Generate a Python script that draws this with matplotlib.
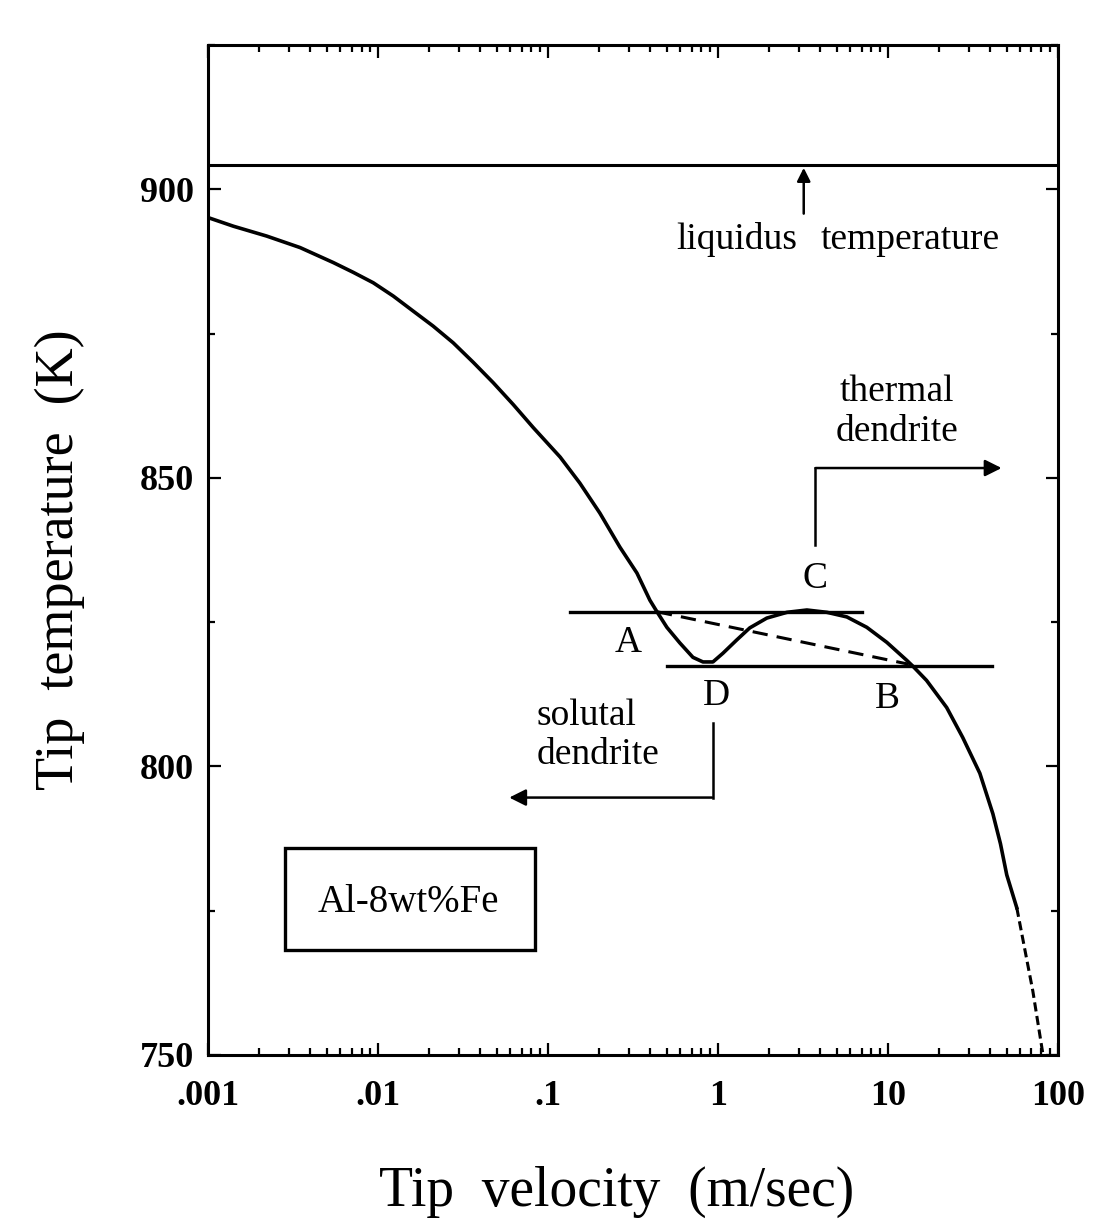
import matplotlib
matplotlib.use("Agg")
import matplotlib.pyplot as plt
from matplotlib.patches import Rectangle
from matplotlib.ticker import FixedLocator, NullFormatter, MultipleLocator

plt.rcParams['font.family'] = ['Liberation Serif', 'DejaVu Serif']

# tip temperature curve (solid part, then dashed tail)
velocity = [0.001, 0.00141, 0.00221, 0.00348, 0.00546, 0.00716, 0.00938, 0.0123,
            0.0161, 0.0211, 0.0277, 0.0364, 0.0476, 0.0625, 0.0820, 0.118, 0.154,
            0.202, 0.265, 0.334, 0.398, 0.438, 0.501, 0.597, 0.713, 0.817, 0.935,
            1.07, 1.29, 1.54, 1.94, 2.55, 3.34, 4.38, 5.74, 7.52, 9.86, 12.9, 14.0,
            16.9, 22.2, 27.6, 34.8, 41.5, 46.0, 50.1, 57.4]
temperature = [895.1, 893.6, 891.9, 889.9, 887.3, 885.6, 883.8, 881.5,
               878.9, 876.3, 873.4, 870.0, 866.5, 862.7, 858.7, 853.6, 849.1,
               843.9, 838.0, 833.5, 828.8, 826.8, 824.1, 821.4, 818.9, 818.1, 818.1,
               819.6, 821.9, 824.0, 825.7, 826.7, 827.1, 826.7, 825.9, 824.1, 821.5, 818.4, 817.4,
               814.9, 810.2, 805.0, 798.8, 791.8, 786.6, 781.2, 775.5]
velocity_tail = [57.4, 71.3, 81.7]
temperature_tail = [775.5, 761.1, 750.2]

liquidus_T = 904.2
upper_T = 826.8       # horizontal through A and C
lower_T = 817.4       # horizontal through D and B
upper_span = [0.135, 7.0]
lower_span = [0.50, 41.0]
tie_v = [0.438, 13.3]  # dashed A-B line
tie_T = [826.8, 817.7]

xticks = [0.001, 0.01, 0.1, 1, 10, 100]
xticklabels = ['.001', '.01', '.1', '1', '10', '100']
yticks = [750, 800, 850, 900]

fig = plt.figure(figsize=(10.95, 12.23), dpi=100)
ax = fig.add_axes([0.19, 0.1374, 0.776, 0.8258])

ax.plot(velocity, temperature, color='black', lw=2.6, solid_joinstyle='round')
ax.plot(velocity_tail, temperature_tail, color='black', lw=2.2, ls=(0, (3, 1.5)))
ax.axhline(liquidus_T, color='black', lw=2.2)
ax.plot(upper_span, [upper_T, upper_T], color='black', lw=2.4)
ax.plot(lower_span, [lower_T, lower_T], color='black', lw=2.4)
ax.plot(tie_v, tie_T, color='black', lw=2.2, ls=(0, (5, 3)))

ax.set_xscale('log')
ax.set_xlim(0.001, 100)
ax.set_ylim(750, 925)

ax.xaxis.set_major_locator(FixedLocator(xticks))
ax.set_xticklabels(xticklabels)
ax.xaxis.set_minor_formatter(NullFormatter())
ax.yaxis.set_major_locator(FixedLocator(yticks))
ax.yaxis.set_minor_locator(MultipleLocator(25))

ax.tick_params(which='both', direction='in', top=True, right=True, width=1.6)
ax.tick_params(which='major', length=9)
ax.tick_params(which='minor', length=5)
ax.tick_params(axis='x', which='major', pad=18)
ax.tick_params(axis='y', which='major', pad=10)
for lab in ax.get_xticklabels() + ax.get_yticklabels():
    lab.set_fontsize(26)
    lab.set_fontweight('bold')
for s in ax.spines.values():
    s.set_linewidth(2.2)

ax.set_xlabel('Tip  velocity  (m/sec)', fontsize=40, labelpad=42)
ax.xaxis.set_label_coords(0.481, -0.11)
ax.set_ylabel('Tip  temperature  (K)', fontsize=39, labelpad=40)
ax.yaxis.set_label_coords(-0.145, 0.49)

fs = 27
# liquidus annotation
ax.annotate('', xy=(3.2, liquidus_T), xytext=(3.2, 895.3),
            arrowprops=dict(arrowstyle='-|>', color='black', lw=1.8, mutation_scale=20))
ax.text(2.95, 894.3, 'liquidus', fontsize=fs, ha='right', va='top')
ax.text(4.0, 894.3, 'temperature', fontsize=fs, ha='left', va='top')

# point labels
ax.text(0.296, 821.5, 'A', fontsize=fs, ha='center', va='center')
ax.text(0.986, 812.3, 'D', fontsize=fs, ha='center', va='center')
ax.text(10.0, 811.8, 'B', fontsize=fs, ha='center', va='center')
ax.text(3.72, 832.6, 'C', fontsize=fs, ha='center', va='center')

# thermal dendrite arrow
ax.plot([3.72, 3.72], [838.4, 851.7], color='black', lw=1.8)
ax.annotate('', xy=(48.5, 851.7), xytext=(3.62, 851.7),
            arrowprops=dict(arrowstyle='-|>', color='black', lw=1.8, mutation_scale=25))
ax.text(11.3, 861.5, 'thermal\ndendrite', fontsize=fs, ha='center', va='center',
        linespacing=1.2)

# solutal dendrite arrow
ax.plot([0.936, 0.936], [807.6, 794.6], color='black', lw=1.8)
ax.annotate('', xy=(0.057, 794.6), xytext=(0.96, 794.6),
            arrowprops=dict(arrowstyle='-|>', color='black', lw=1.8, mutation_scale=25))
ax.text(0.0861, 805.4, 'solutal\ndendrite', fontsize=fs, ha='left', va='center',
        linespacing=1.2)

# alloy box
ax.add_patch(Rectangle((0.0906, 0.104), 0.294, 0.101, transform=ax.transAxes,
                       fill=False, ec='black', lw=2.4))
ax.text(0.2353, 0.151, 'Al-8wt%Fe', fontsize=28, ha='center', va='center',
        transform=ax.transAxes)

fig.savefig('out.png', dpi=100)
